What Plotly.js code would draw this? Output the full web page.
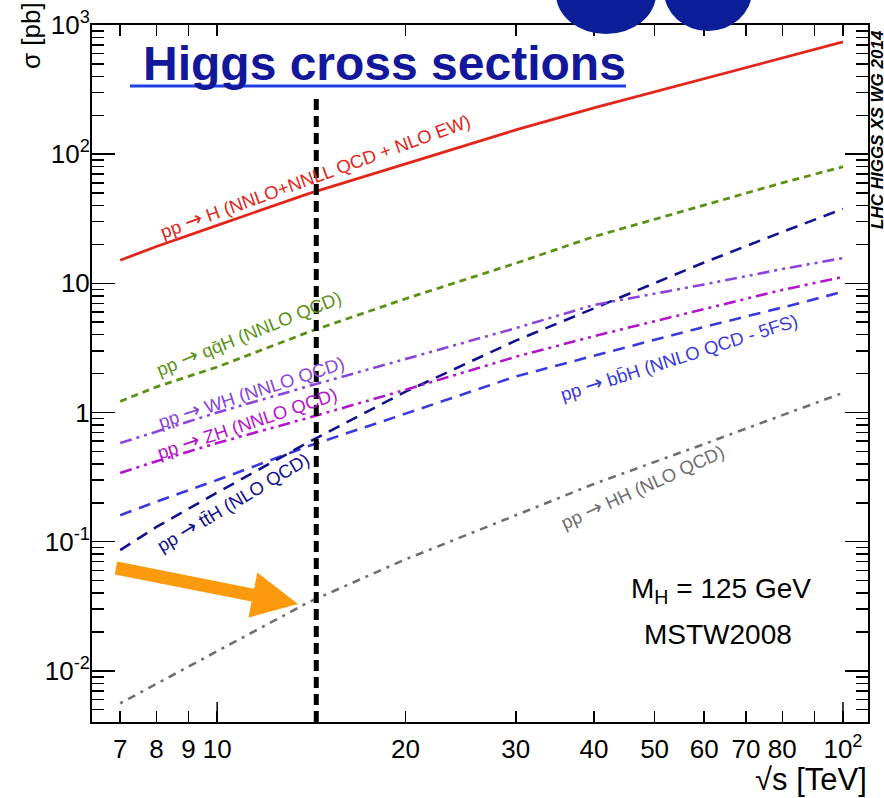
<!DOCTYPE html>
<html>
<head>
<meta charset="utf-8">
<script src="https://cdn.plot.ly/plotly-3.0.1.min.js"></script>
<style>
  html, body { margin: 0; padding: 0; background: #ffffff; }
  #chart { width: 884px; height: 798px; }
</style>
</head>
<body>
<div id="chart"></div>
<script>
// ---------------- data ----------------
const energies = [7, 8, 10, 14, 20, 30, 40, 60, 80, 100];          // sqrt(s) [TeV]
const xs_ggH = [15.1, 19.3, 28.1, 49.5, 84, 154, 228, 384, 555, 740];
const xs_VBF = [1.22, 1.58, 2.25, 4.2, 7.6, 14.3, 23.0, 40, 60, 80];
const xs_WH  = [0.58, 0.71, 1.0, 1.6, 2.6, 4.5, 6.8, 9.8, 12.9, 15.7];
const xs_ZH  = [0.34, 0.42, 0.58, 0.91, 1.5, 2.7, 3.9, 6.3, 8.9, 11.2];
const xs_ttH = [0.086, 0.13, 0.24, 0.59, 1.45, 3.6, 6.4, 14.5, 25, 37.7];
const xs_bbH = [0.16, 0.204, 0.30, 0.55, 0.98, 1.9, 2.75, 4.6, 6.5, 8.6];
const xs_HH  = [0.0056, 0.0079, 0.0142, 0.034, 0.073, 0.16, 0.28, 0.57, 0.95, 1.42];

const markerEnergy = 14.4;   // dashed vertical marker line

const xTickVals = [7, 8, 9, 10, 20, 30, 40, 50, 60, 70, 80, 90, 100];
const xTickText = ['7', '8', '9', '10', '20', '30', '40', '50', '60', '70', '80', '', '10<sup>2</sup>'];
const yTickVals = [0.01, 0.1, 1, 10, 100, 1000];
const yTickText = ['10<sup>-2</sup>', '10<sup>-1</sup>', '1', '10', '10<sup>2</sup>', '10<sup>3</sup>'];

// ---------------- geometry helpers ----------------
const W = 884, H = 798;
const M = {l: 92, r: 16, t: 25, b: 76};
const PW = W - M.l - M.r, PH = H - M.t - M.b;
const px = v => (v - M.l) / PW;
const py = v => (H - M.b - v) / PH;

const FONT = 'Liberation Sans, Arial, Helvetica, sans-serif';
const ARROW = '<span style="font-family:DejaVu Sans;font-size:21px">\u2192</span>';

// minor ticks on y
const yMinor = [];
for (let d = -3; d <= 2; d++) {
  for (let k = 2; k <= 9; k++) {
    const v = k * Math.pow(10, d);
    if (v >= 0.004 && v <= 1000) yMinor.push(v);
  }
}

function series(y, name, color, dash, width) {
  return {
    x: energies, y: y, name: name, type: 'scatter', mode: 'lines',
    line: {color: color, width: width || 2.6, dash: dash},
    hoverinfo: 'skip'
  };
}

const data = [
  series(xs_HH,  'HH',  '#6f6f6f', '3px,6px,8px,6px', 2.6),
  series(xs_bbH, 'bbH', '#3a3adc', '12px,8px', 2.6),
  series(xs_ttH, 'ttH', '#12128e', '12px,8px', 2.6),
  series(xs_ZH,  'ZH',  '#b415cc', '12px,5px,3px,5px,3px,5px', 2.6),
  series(xs_WH,  'WH',  '#8a45da', '12px,5px,3px,5px,3px,5px', 2.6),
  series(xs_VBF, 'VBF', '#5b9216', '7px,5px', 2.8),
  series(xs_ggH, 'ggH', '#e2261b', 'solid', 2.8)
];

// ---------------- annotations ----------------
function lab(text, cx, cy, angle, color, size) {
  return {
    xref: 'paper', yref: 'paper', x: px(cx), y: py(cy),
    xanchor: 'center', yanchor: 'middle', showarrow: false,
    text: text, textangle: angle,
    font: {family: FONT, size: size || 19, color: color}
  };
}

const annotations = [
  lab('pp ' + ARROW + ' H (NNLO+NNLL QCD + NLO EW)', 315, 176, -20, '#e2261b', 18.5),
  lab('pp ' + ARROW + ' qq\u0304H (NNLO QCD)', 249, 333, -22, '#5b9216', 18.5),
  lab('pp ' + ARROW + ' WH (NNLO QCD)', 251, 392, -18, '#8a45da', 18.5),
  lab('pp ' + ARROW + ' ZH (NNLO QCD)', 247, 423, -18.5, '#b415cc', 18.5),
  lab('pp ' + ARROW + ' tt\u0304H (NLO QCD)', 233, 502, -31, '#12128e', 18.5),
  lab('pp ' + ARROW + ' bb\u0304H (NNLO QCD - 5FS)', 679, 357, -17.7, '#3a3adc', 18.5),
  lab('pp ' + ARROW + ' HH (NLO QCD)', 642, 487, -24.5, '#6f6f6f', 18.5),
  lab('M<sub>H</sub> = 125 GeV', 721, 590, 0, '#000000', 28),
  lab('MSTW2008', 718, 634, 0, '#000000', 28),
  // axis titles
  lab('\u03c3 [pb]', 31, 36, -90, '#000000', 26),
  {
    xref: 'paper', yref: 'paper', x: px(869), y: py(779),
    xanchor: 'right', yanchor: 'middle', showarrow: false,
    text: '\u221as [TeV]', font: {family: FONT, size: 31, color: '#000000'}
  },
  // WG stamp
  lab('<b><i>LHC HIGGS XS WG 2014</i></b>', 877, 130, -90, '#000000', 17),
  // slide heading
  {
    xref: 'paper', yref: 'paper', x: px(141), y: py(63),
    xanchor: 'left', yanchor: 'middle', showarrow: false,
    text: '<b>Higgs cross sections</b>',
    font: {family: FONT, size: 48, color: '#13179a'}
  }
];

// ---------------- shapes ----------------
function arrowPath(tx, ty, hx, hy, halfShaft, headLen, headHalf) {
  const dx = hx - tx, dy = hy - ty, L = Math.hypot(dx, dy);
  const ux = dx / L, uy = dy / L, nx = -uy, ny = ux;
  const bx = hx - headLen * ux, by = hy - headLen * uy;
  const pts = [
    [tx + nx * halfShaft, ty + ny * halfShaft],
    [bx + nx * halfShaft, by + ny * halfShaft],
    [bx + nx * headHalf, by + ny * headHalf],
    [hx, hy],
    [bx - nx * headHalf, by - ny * headHalf],
    [bx - nx * halfShaft, by - ny * halfShaft],
    [tx - nx * halfShaft, ty - ny * halfShaft]
  ];
  return 'M' + pts.map(p => px(p[0]).toFixed(5) + ',' + py(p[1]).toFixed(5)).join(' L') + ' Z';
}

const shapes = [
  // dashed marker line
  {type: 'line', xref: 'x', yref: 'paper', x0: markerEnergy, x1: markerEnergy,
   y0: 0, y1: py(97), line: {color: '#000000', width: 5, dash: '11px,6px'}},
  // longer decade ticks on the bottom axis
  {type: 'line', xref: 'x', yref: 'paper', x0: 10, x1: 10, y0: 0, y1: 20 / PH,
   line: {color: '#000000', width: 1.5}},
  {type: 'line', xref: 'x', yref: 'paper', x0: 100, x1: 100, y0: 0, y1: 20 / PH,
   line: {color: '#000000', width: 1.5}},
  // orange arrow
  {type: 'path', xref: 'paper', yref: 'paper',
   path: arrowPath(116, 568, 298, 604, 6.5, 46, 23),
   fillcolor: '#fb9a0c', line: {width: 0}},
  // heading underline
  {type: 'line', xref: 'paper', yref: 'paper', x0: px(130), x1: px(626), y0: py(86), y1: py(86),
   line: {color: '#1e3ee6', width: 3}},
  // cut-off big letters at the top
  {type: 'circle', xref: 'paper', yref: 'paper', x0: px(556), x1: px(656), y0: py(34), y1: py(-46),
   fillcolor: '#0c1f98', line: {width: 0}},
  {type: 'circle', xref: 'paper', yref: 'paper', x0: px(664), x1: px(752), y0: py(31), y1: py(-49),
   fillcolor: '#0c1f98', line: {width: 0}}
];

const layout = {
  width: W, height: H,
  margin: M,
  paper_bgcolor: '#ffffff', plot_bgcolor: '#ffffff',
  showlegend: false,
  font: {family: FONT, color: '#000000'},
  xaxis: {
    type: 'log', range: [0.800, 2.040],
    tickmode: 'array', tickvals: xTickVals, ticktext: xTickText,
    ticks: 'inside', ticklen: 11, tickwidth: 1.5, tickcolor: '#000000',
    mirror: 'ticks', showline: true, linewidth: 2, linecolor: '#000000',
    showgrid: false, zeroline: false,
    tickfont: {family: FONT, size: 26, color: '#000000'},
    ticklabelstandoff: 3
  },
  yaxis: {
    type: 'log', range: [-2.396, 3],
    tickmode: 'array', tickvals: yTickVals, ticktext: yTickText,
    ticks: 'inside', ticklen: 23, tickwidth: 1.5, tickcolor: '#000000',
    minor: {tickmode: 'array', tickvals: yMinor, ticks: 'inside', ticklen: 12,
            tickwidth: 1.5, tickcolor: '#000000', showgrid: false},
    mirror: 'ticks', showline: true, linewidth: 2, linecolor: '#000000',
    showgrid: false, zeroline: false,
    tickfont: {family: FONT, size: 26, color: '#000000'},
    ticklabelstandoff: -5
  },
  annotations: annotations,
  shapes: shapes
};

Plotly.newPlot('chart', data, layout, {displayModeBar: false, staticPlot: true});
</script>
</body>
</html>
